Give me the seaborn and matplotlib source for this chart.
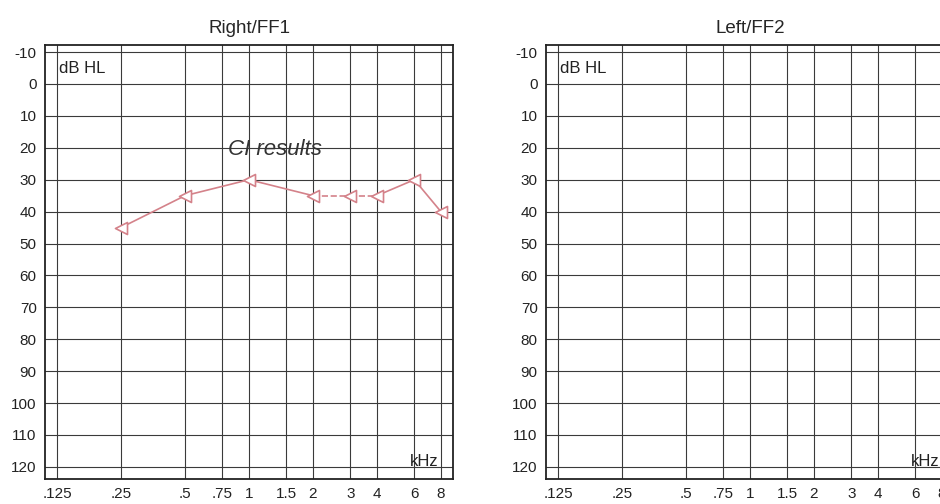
import numpy as np
import pandas as pd
import matplotlib
matplotlib.use("Agg")
import matplotlib.pyplot as plt
import seaborn as sns

sns.set_style("white")
plt.rcParams['font.family'] = ['Liberation Sans', 'DejaVu Sans']
plt.rcParams['axes.unicode_minus'] = False

# --- Data ---
freq_ticks = [0.125, 0.25, 0.5, 0.75, 1, 1.5, 2, 3, 4, 6, 8]
freq_labels = ['.125', '.25', '.5', '.75', '1', '1.5', '2', '3', '4', '6', '8']
db_ticks = list(range(-10, 130, 10))

right_freq = [0.25, 0.5, 1, 2, 3, 4, 6, 8]
right_db = [45, 35, 30, 35, 35, 35, 30, 40]
right_seg_style = ['-', '-', '-', '--', '--', '-', '-']

panel_titles = ['Right/FF1', 'Left/FF2']
mark_color = '#d4828a'

fig = plt.figure(figsize=(9.4, 5.04), dpi=100)
ax_r = fig.add_axes([0.0479, 0.0496, 0.434, 0.861])
ax_l = fig.add_axes([0.5809, 0.0496, 0.434, 0.861])

for ax, title in zip([ax_r, ax_l], panel_titles):
    ax.set_xscale('log', base=2)
    ax.set_xlim(0.1097, 9.12)
    ax.set_ylim(123.8, -12.2)
    ax.set_xticks(freq_ticks)
    ax.set_xticklabels(freq_labels)
    ax.minorticks_off()
    ax.set_yticks(db_ticks)
    ax.tick_params(length=0, labelsize=11, pad=6, colors='#222222')
    ax.grid(True, color='#3a3a3a', linewidth=0.8)
    for s in ax.spines.values():
        s.set_color('#222222')
        s.set_linewidth(1.3)
    ax.set_title(title, fontsize=13.5, pad=9)
    ax.text(0.127, -5, 'dB HL', fontsize=12, va='center', ha='left', color='#222222')
    ax.text(7.8, 118.3, 'kHz', fontsize=12, va='center', ha='right', color='#222222')
    ax.set_xlabel('')
    ax.set_ylabel('')

# --- Right ear results ---
df = pd.DataFrame({'freq': right_freq, 'db': right_db})
for i, ls in enumerate(right_seg_style):
    seg = df.iloc[i:i + 2]
    sns.lineplot(data=seg, x='freq', y='db', ax=ax_r, color=mark_color,
                 linestyle=ls, linewidth=1.2, estimator=None, sort=False)
sns.scatterplot(data=df, x='freq', y='db', ax=ax_r, marker='<', s=75,
                facecolor='white', edgecolor=mark_color, linewidth=1.2, zorder=5)
ax_r.set_xlabel('')
ax_r.set_ylabel('')

ax_r.text(1.32, 20.5, 'CI results', fontsize=16, ha='center', va='center',
          color='#333333', style='italic', fontweight='light')

fig.savefig('out.png', dpi=100)
